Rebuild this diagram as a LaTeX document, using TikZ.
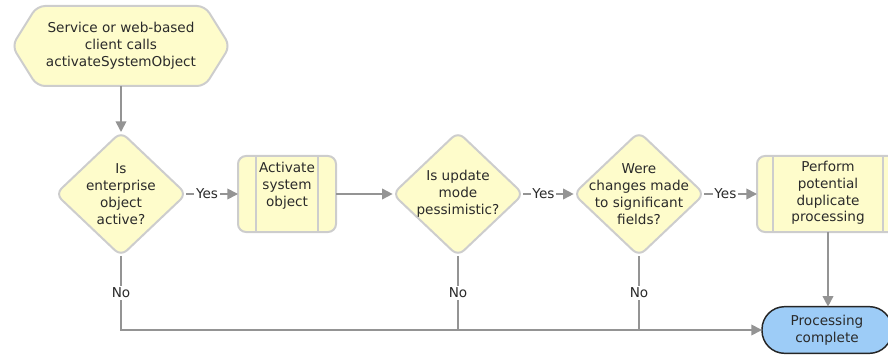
\documentclass[tikz,border=0pt]{standalone}
\usepackage{fontspec}
\setmainfont{DejaVu Sans}
\usetikzlibrary{shapes.geometric,arrows.meta}
\definecolor{yfill}{HTML}{FEFCCB}
\definecolor{ydraw}{HTML}{CDCDCD}
\definecolor{lgray}{HTML}{949494}
\definecolor{bfill}{HTML}{9DCCF7}
\definecolor{tcol}{HTML}{2A2A2A}
\begin{document}
\begin{tikzpicture}[x=0.75pt,y=-0.75pt,
  font=\fontsize{10.2}{12.6}\selectfont, text=tcol,
  txt/.style={align=center, inner sep=0pt},
  dec/.style={diamond, draw=ydraw, fill=yfill, line width=1.5pt, rounded corners=6pt,
    minimum width=98pt, minimum height=93pt, inner sep=0pt, outer sep=0pt},
  proc/.style={rectangle, draw=ydraw, fill=yfill, line width=1.5pt, rounded corners=6pt,
    minimum height=57pt, inner sep=0pt, outer sep=0pt},
  term/.style={rectangle, draw=black!85, fill=bfill, line width=1.1pt, rounded corners=17pt,
    minimum width=97.5pt, minimum height=35pt, inner sep=0pt, outer sep=0pt},
  conn/.style={draw=lgray, line width=1.3pt},
  arr/.style={conn, -{Triangle[length=8pt,width=8pt]}},
  lbl/.style={fill=white, inner sep=1.2pt, text=tcol}
]
\useasboundingbox (0,0) rectangle (888,356);

% start hexagon
\draw[draw=ydraw, fill=yfill, line width=1.5pt, rounded corners=6pt]
  (121,6) -- (205,6) -- (230,46) -- (205,86) -- (37,86) -- (12,46) -- (37,6) -- cycle;
\node[txt] (hex) at (121,46) {Service or web-based\\client calls\\activateSystemObject};
\coordinate (hb) at (121,86);

% decisions
\node[dec] (d1) at (121,194) {};
\node[txt] (d1t) at (d1) {Is\\enterprise\\object\\active?};
\node[dec] (d2) at (458,194) {};
\node[txt] (d2t) at (d2) {Is update\\mode\\pessimistic?};
\node[dec] (d3) at (639,194) {};
\node[txt] (d3t) at (d3) {Were\\changes made\\to significant\\fields?};

% process boxes
\node[proc, minimum width=73.5pt] (b1) at (287,194) {};
\draw[ydraw, line width=1.5pt] ([xshift=13.5pt]b1.north west) -- ([xshift=13.5pt]b1.south west);
\draw[ydraw, line width=1.5pt] ([xshift=-13.5pt]b1.north east) -- ([xshift=-13.5pt]b1.south east);
\node[txt] (b1t) at (287,186) {Activate\\system\\object};

\node[proc, minimum width=106.5pt] (b2) at (828,194) {};
\draw[ydraw, line width=1.5pt] ([xshift=12pt]b2.north west) -- ([xshift=12pt]b2.south west);
\draw[ydraw, line width=1.5pt] ([xshift=-12pt]b2.north east) -- ([xshift=-12pt]b2.south east);
\node[txt] (b2t) at (828,193) {Perform\\potential\\duplicate\\processing};

% terminal
\node[term] (pc) at (827,330) {};
\node[txt] (pct) at (pc) {Processing\\complete};

% connectors
\draw[arr] (hb) -- (d1.north);
\draw[arr] (d1.east) -- node[lbl, pos=0.4] {Yes} (b1.west);
\draw[arr] (b1.east) -- (d2.west);
\draw[arr] (d2.east) -- node[lbl, pos=0.4] {Yes} (d3.west);
\draw[arr] (d3.east) -- node[lbl, pos=0.4] {Yes} (b2.west);
\draw[arr] (b2.south) -- (b2.south |- pc.north);
\draw[arr] (d1.south) |- node[lbl, pos=0.25] {No} (pc.west);
\draw[conn] (d2.south) -- node[lbl] {No} (d2.south |- pc.west);
\draw[conn] (d3.south) -- node[lbl] {No} (d3.south |- pc.west);
\end{tikzpicture}
\end{document}
